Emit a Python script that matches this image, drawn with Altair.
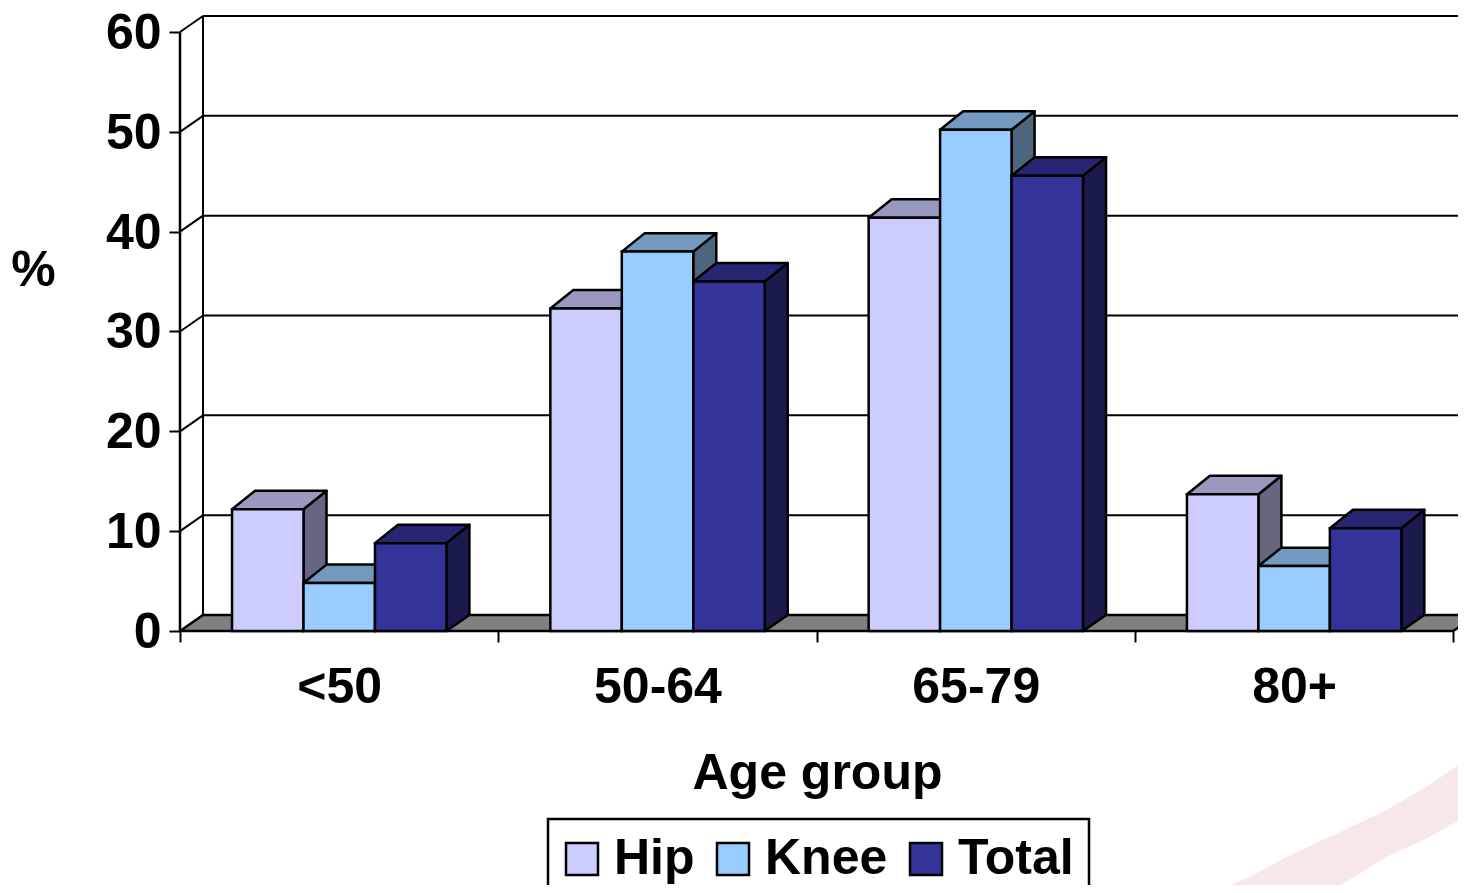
import altair as alt
import pandas as pd

# --- chart values -----------------------------------------------------------
categories = ["<50", "50-64", "65-79", "80+"]
hip = [12.2, 32.3, 41.4, 13.7]
knee = [4.8, 38.0, 50.2, 6.5]
total = [8.8, 35.0, 45.6, 10.3]
y_ticks = [0, 10, 20, 30, 40, 50, 60]
x_boundaries = [0, 1, 2, 3, 4]

# pale decorative swoosh behind the lower right corner (in axis units)
swoosh_x = [3.257, 3.372, 3.477, 3.603, 3.634, 3.791, 3.916, 4.04]
swoosh_top = [-26.1, -24.45, -22.6, -20.74, -20.3, -17.9, -15.6, -12.9]
swoosh_low = [-26.25, -26.25, -26.25, -26.25, -25.7, -22.6, -20.8, -18.6]

# --- layout / style ---------------------------------------------------------
FONT = "Liberation Sans"
FS = 50
X_MAX = 1278 / 318.3
Y_MAX = 62.1
DX = 0.0723      # depth of the 3-D look along x
DY = 1.6         # depth of the floor and walls along y
BAR_DY = 1.85    # depth of the bar tops along y
GAP = 0.1635
BAR = 0.2245
EDGE = 2.5
series = [
    ("Hip", hip, "#CCCCFF", "#9999BF", "#666680"),
    ("Knee", knee, "#99CCFF", "#7399BF", "#4D6680"),
    ("Total", total, "#333399", "#262673", "#1A1A4D"),
]
xs = alt.Scale(domain=[0, X_MAX], nice=False, zero=False)
ys = alt.Scale(domain=[0, Y_MAX], nice=False, zero=False)
X = lambda f, **k: alt.X(f, type="quantitative", scale=xs, axis=k.pop("axis", None), **k)
Y = lambda f, **k: alt.Y(f, type="quantitative", scale=ys, axis=k.pop("axis", None), **k)

layers = []

# background swoosh
sw = pd.DataFrame({"x": swoosh_x, "y": swoosh_top, "y2": swoosh_low})
layers.append(alt.Chart(sw).mark_area(color="#F7E7E7", clip=False).encode(
    x=X("x"), y=Y("y"), y2="y2"))

# floor
floor = pd.DataFrame({"y": [0, DY], "x": [0, DX], "x2": [4, 4 + DX]})
layers.append(alt.Chart(floor).mark_area(
    orient="horizontal", fill="#808080", stroke="black", strokeWidth=EDGE,
    strokeJoin="round", clip=False
).encode(x=X("x"), x2="x2", y=Y("y")))

# back wall: grid lines + left edge
grid = pd.DataFrame({"y": [v + DY for v in y_ticks[1:]], "x": DX, "x2": 4 + 2 * DX})
layers.append(alt.Chart(grid).mark_rule(color="black", strokeWidth=2, clip=False).encode(
    x=X("x"), x2="x2", y=Y("y")))
layers.append(alt.Chart(pd.DataFrame({"x": [DX], "y": [DY], "y2": [60 + DY]}))
              .mark_rule(color="black", strokeWidth=2, clip=False)
              .encode(x=X("x"), y=Y("y"), y2="y2"))

# side wall: diagonals from front axis to back wall
diag = pd.DataFrame(
    [{"t": v, "x": 0, "y": v} for v in y_ticks[1:]]
    + [{"t": v, "x": DX, "y": v + DY} for v in y_ticks[1:]]
)
layers.append(alt.Chart(diag).mark_line(color="black", strokeWidth=2, clip=False).encode(
    x=X("x"), y=Y("y"), detail="t:N"))

# y axis + its line
y_axis = alt.Axis(
    orient="left",
    values=y_ticks, domain=False, grid=False, tickSize=11, tickWidth=2, tickColor="black",
    labelFont=FONT, labelFontSize=FS, labelFontWeight="bold", labelColor="black",
    labelPadding=8, labelOffset=1.5, title="%", titleFont=FONT, titleFontSize=FS,
    titleFontWeight="bold", titleColor="black", titleAngle=0, titleAlign="center",
    titleBaseline="middle", titleX=-147, titleY=259,
)
layers.append(alt.Chart(pd.DataFrame({"x": [0], "y": [0], "y2": [60]}))
              .mark_rule(color="black", strokeWidth=2.5, clip=False)
              .encode(x=X("x"), y=Y("y", axis=y_axis), y2="y2"))

# bars, drawn back-to-front: side, top, front for each series
legend = alt.Legend(
    orient="none", legendX=368, legendY=808, direction="horizontal", columns=3,
    title=None, padding=15, columnPadding=17, strokeColor="black", fillColor="white",
    symbolType="square", symbolSize=1024, symbolStrokeColor="black", symbolStrokeWidth=2.5,
    symbolOffset=-6,
    labelFont=FONT, labelFontSize=FS, labelFontWeight="bold", labelColor="black",
    labelOffset=7, labelLimit=300, gridAlign="none", rowPadding=0,
)
for i, (name, vals, front, top, side) in enumerate(series):
    rows = []
    for c, v in enumerate(vals):
        x0 = c + GAP + i * BAR
        x1 = x0 + BAR
        rows.append({"c": c, "x0": x0, "x1": x1, "v": v, "base": 0, "s": name})
    df = pd.DataFrame(rows)

    side_rows = []
    top_rows = []
    for r in rows:
        side_rows += [
            {"c": r["c"], "x": r["x1"], "y": r["v"], "y2": 0},
            {"c": r["c"], "x": r["x1"] + DX, "y": r["v"] + BAR_DY, "y2": DY},
        ]
        top_rows += [
            {"c": r["c"], "y": r["v"], "x": r["x0"], "x2": r["x1"]},
            {"c": r["c"], "y": r["v"] + BAR_DY, "x": r["x0"] + DX, "x2": r["x1"] + DX},
        ]
    layers.append(alt.Chart(pd.DataFrame(side_rows)).mark_area(
        fill=side, stroke="black", strokeWidth=EDGE, strokeJoin="round", clip=False
    ).encode(x=X("x"), y=Y("y"), y2="y2", detail="c:N"))
    layers.append(alt.Chart(pd.DataFrame(top_rows)).mark_area(
        orient="horizontal", fill=top, stroke="black", strokeWidth=EDGE,
        strokeJoin="round", clip=False
    ).encode(x=X("x"), x2="x2", y=Y("y"), detail="c:N"))
    layers.append(alt.Chart(df).mark_bar(stroke="black", strokeWidth=EDGE, clip=False).encode(
        x=X("x0"), x2="x1", y=Y("v"), y2="base",
        fill=alt.Fill("s:N", scale=alt.Scale(domain=[s[0] for s in series],
                                             range=[s[2] for s in series]), legend=legend),
    ))

# category labels + axis title
label_axis = alt.Axis(
    orient="bottom",
    values=[0.5, 1.5, 2.5, 3.5], ticks=False, domain=False, grid=False,
    labelExpr="['<50','50-64','65-79','80+'][floor(datum.value)]",
    labelFont=FONT, labelFontSize=FS, labelFontWeight="bold", labelColor="black",
    labelPadding=31, labelAngle=0, labelOverlap=False, labelFlush=False,
    title="Age group", titleFont=FONT, titleFontSize=FS, titleFontWeight="bold",
    titleColor="black", titleX=637, titleY=142, titleBaseline="middle", titleAlign="center",
)
layers.append(alt.Chart(pd.DataFrame({"x": [0.5], "y": [0]})).mark_point(opacity=0).encode(
    x=X("x", axis=label_axis), y=Y("y")))

# boundary ticks
tick_axis = alt.Axis(
    orient="bottom",
    values=x_boundaries, labels=False, domain=False, grid=False, tickSize=11, tickWidth=2,
    tickColor="black", title=None,
)
layers.append(alt.Chart(pd.DataFrame({"x": [0], "y": [0]})).mark_point(opacity=0).encode(
    x=X("x", axis=tick_axis), y=Y("y")))

chart = (
    alt.layer(*layers)
    .resolve_axis(x="independent", y="independent")
    .properties(
        width=1278, height=620,
        autosize=alt.AutoSizeParams(type="none", contains="content"),
        padding={"left": 172, "top": 3, "right": 0, "bottom": 254},
        background="white",
    )
    .configure_view(stroke=None)
    .configure_legend(strokeWidth=2.5)
)
chart.save("out.html", embed_options={"renderer": "svg", "actions": False})
